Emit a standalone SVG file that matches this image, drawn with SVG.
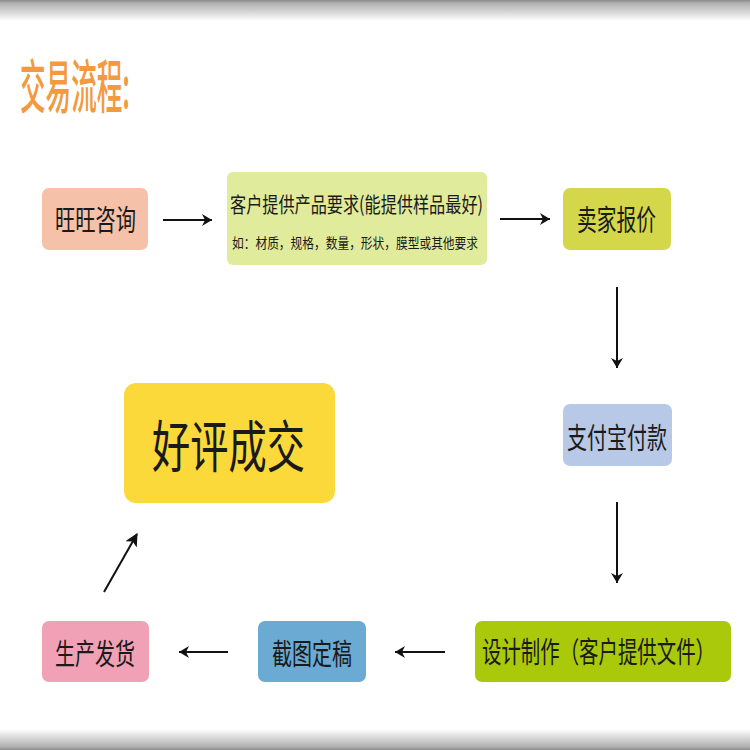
<svg xmlns="http://www.w3.org/2000/svg" width="750" height="750" viewBox="0 0 750 750">
<defs>
<linearGradient id="topbar" x1="0" y1="0" x2="0" y2="1">
<stop offset="0" stop-color="#8a8a8a"/>
<stop offset="0.15" stop-color="#b0b0b0"/>
<stop offset="1" stop-color="#ffffff"/>
</linearGradient>
<linearGradient id="botbar" x1="0" y1="0" x2="0" y2="1">
<stop offset="0" stop-color="#ffffff"/>
<stop offset="0.85" stop-color="#b0b0b0"/>
<stop offset="1" stop-color="#8a8a8a"/>
</linearGradient>
<marker id="head" viewBox="0 0 12 12" refX="11" refY="6" markerWidth="12" markerHeight="12" markerUnits="userSpaceOnUse" orient="auto">
<path d="M1,0 L11,6 L1,12 L4,6 Z" fill="#111"/>
</marker>
<marker id="headF" viewBox="0 0 12 12" refX="11" refY="6" markerWidth="13" markerHeight="13" markerUnits="userSpaceOnUse" orient="auto">
<path d="M0,0 L12,6 L0,12 L3,6 Z" fill="#111"/>
</marker>
</defs>
<style>
.t{font-family:"Noto Sans CJK SC","Noto Sans",sans-serif;fill:#1a1a1a;text-anchor:middle;dominant-baseline:central}
.c{stroke:#111;stroke-width:2;fill:none}
</style>
<rect x="0" y="0" width="750" height="750" fill="#ffffff"/>
<rect x="0" y="0" width="750" height="21" fill="url(#topbar)"/>
<rect x="0" y="729" width="750" height="21" fill="url(#botbar)"/>
<text x="20" y="83" font-family="'Noto Sans CJK SC',sans-serif" font-size="58" font-weight="500" fill="#f29a40" dominant-baseline="central" textLength="110" lengthAdjust="spacingAndGlyphs">交易流程:</text>

<g id="n1"><rect x="42" y="188" width="106" height="62" rx="7" fill="#f6c1a9"/><text class="t" x="95.5" y="218" font-size="29" textLength="81" lengthAdjust="spacingAndGlyphs">旺旺咨询</text></g>
<g id="n2"><rect x="227" y="172" width="260" height="93" rx="6" fill="#e1eb9c"/>
<text class="t" x="356.5" y="203" font-size="21" textLength="253" lengthAdjust="spacingAndGlyphs">客户提供产品要求(能提供样品最好)</text>
<text class="t" x="355" y="242" font-size="14" textLength="246" lengthAdjust="spacingAndGlyphs">如：材质，规格，数量，形状，膜型或其他要求</text></g>
<g id="n3"><rect x="563" y="188" width="108" height="62" rx="7" fill="#d5d74b"/><text class="t" x="616.5" y="218" font-size="29" textLength="79" lengthAdjust="spacingAndGlyphs">卖家报价</text></g>
<g id="n4"><rect x="563" y="404" width="109" height="62" rx="7" fill="#b8c9e7"/><text class="t" x="617" y="436" font-size="29" textLength="100" lengthAdjust="spacingAndGlyphs">支付宝付款</text></g>
<g id="n5"><rect x="475" y="621" width="256" height="61" rx="7" fill="#a9c90a"/><text class="t" transform="translate(598.5,650) scale(0.67,1)" x="0" y="0" font-size="29">设计制作（客户提供文件）</text></g>
<g id="n6"><rect x="258" y="621" width="108" height="61" rx="7" fill="#6aaad3"/><text class="t" x="312" y="652" font-size="29" textLength="80" lengthAdjust="spacingAndGlyphs">截图定稿</text></g>
<g id="n7"><rect x="42" y="621" width="107" height="61" rx="7" fill="#f1a1b5"/><text class="t" x="95" y="652" font-size="29" textLength="80" lengthAdjust="spacingAndGlyphs">生产发货</text></g>
<g id="n8"><rect x="124" y="383" width="211" height="120" rx="12" fill="#fcd93b"/><text class="t" x="228.5" y="442" font-size="56" textLength="153" lengthAdjust="spacingAndGlyphs">好评成交</text></g>

<g id="connectors">
<line class="c" x1="163" y1="220" x2="212" y2="220" marker-end="url(#head)"/>
<line class="c" x1="500" y1="219" x2="550" y2="219" marker-end="url(#head)"/>
<line class="c" x1="617" y1="287" x2="617" y2="368" marker-end="url(#head)"/>
<line class="c" x1="617" y1="502" x2="617" y2="583" marker-end="url(#head)"/>
<line class="c" x1="445" y1="652" x2="395" y2="652" marker-end="url(#head)"/>
<line class="c" x1="228" y1="652" x2="179" y2="652" marker-end="url(#head)"/>
<line class="c" x1="104" y1="592" x2="137" y2="534" marker-end="url(#headF)"/>
</g>
</svg>
